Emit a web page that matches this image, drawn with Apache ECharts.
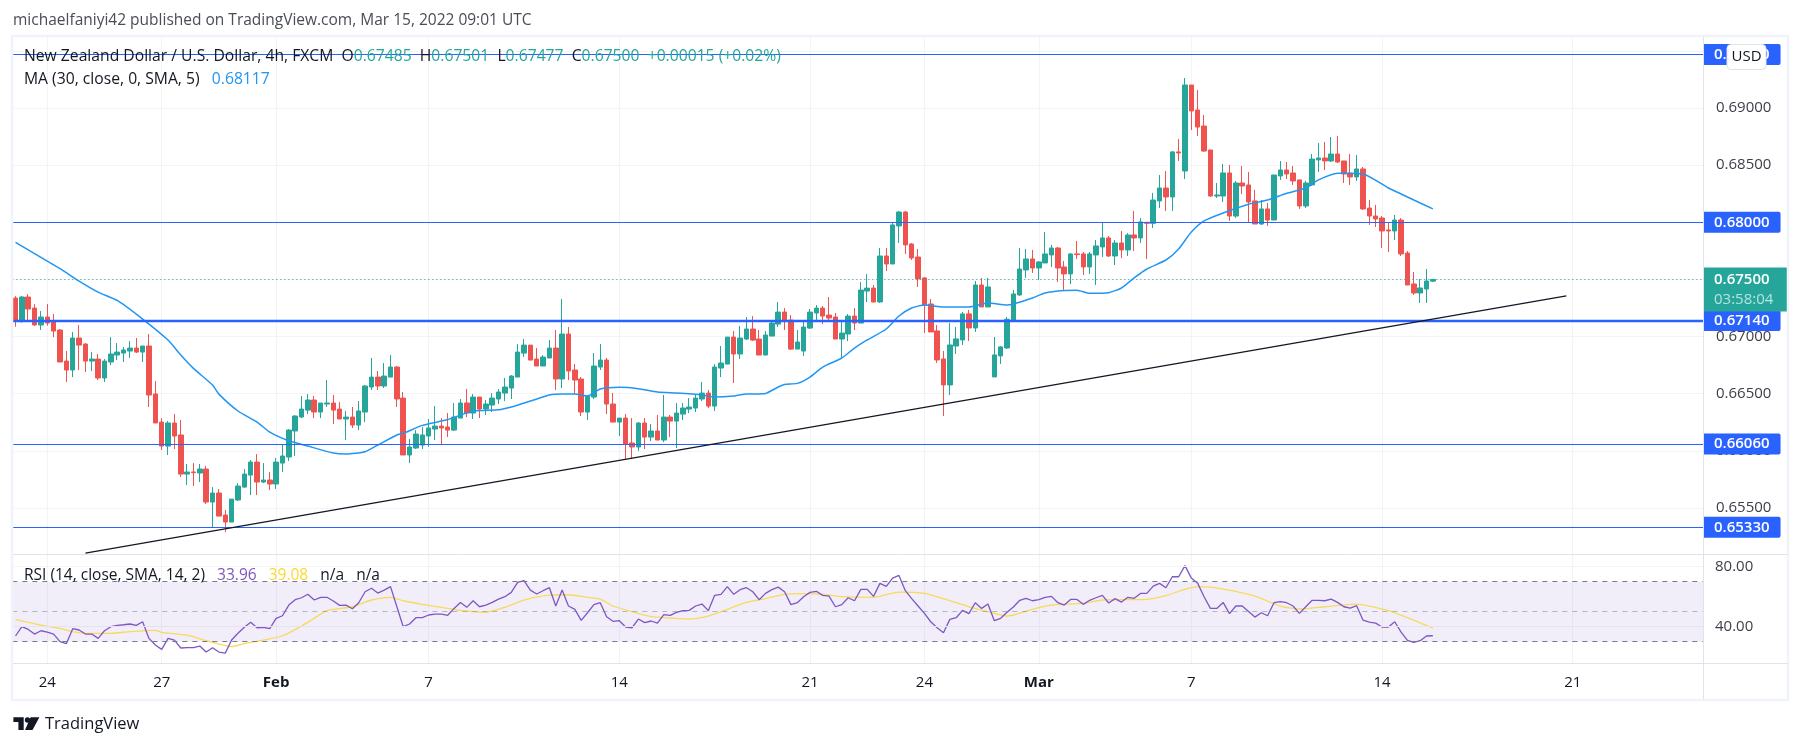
<!DOCTYPE html>
<html>
<head>
<meta charset="utf-8">
<title>NZD/USD 4h</title>
<script src="https://cdn.jsdelivr.net/npm/echarts@6/dist/echarts.min.js"></script>
<style>
  html, body { margin: 0; padding: 0; background: #fff; }
  #chart { width: 1802px; height: 747px; }
</style>
</head>
<body>
<div id="chart"></div>
<script>
// prices are in 1/100000 of a dollar, one entry per 4h candle
const opens = [
  67337,67144,67346,67249,67101,67171,67127,67057,66785,66707,
  66987,66934,66785,66803,66637,66777,66838,66855,66873,66899,
  66864,66917,66497,66251,66041,66243,66138,65796,65814,65805,
  65840,65551,65630,65437,65376,65569,65682,65787,65901,65726,
  65744,65709,65892,65945,66173,66295,66356,66444,66339,66409,
  66418,66365,66278,66295,66225,66339,66558,66645,66567,66645,
  66733,66461,65963,66024,66050,66129,66190,66216,66208,66181,
  66286,66418,66330,66470,66365,66400,66453,66505,66549,66645,
  66855,66925,66803,66742,66812,66899,66628,67022,66707,66628,
  66339,66470,66733,66794,66409,66251,66286,66068,66033,66243,
  66120,66173,66094,66295,66260,66321,66365,66374,66453,66505,
  66391,66724,66759,66995,66847,66978,67066,66978,66838,67004,
  67109,67214,67144,66890,66873,67074,67206,67249,67188,67171,
  66978,67022,67179,67118,67398,67424,67303,67705,67635,67968,
  68090,67810,67696,67513,67285,67049,66804,66576,66917,66970,
  67198,67075,67451,67259,66646,66830,66900,67145,67364,67583,
  67679,67600,67644,67714,67775,67609,67548,67723,67723,67609,
  67714,67784,67863,67705,67819,67758,67889,67863,68000,67991,
  68187,68300,68222,68616,68449,69202,68983,68843,68633,68230,
  68230,68432,68055,68344,68327,68187,67985,68117,68020,68406,
  68458,68432,68371,68143,68327,68546,68563,68537,68598,68537,
  68432,68397,68467,68125,68055,68038,67933,67924,68020,67731,
  67460,67381,67416,67485
];
const closes = [
  67144,67346,67241,67101,67171,67118,67048,66777,66707,66987,
  66925,66785,66803,66637,66785,66847,66864,66882,66899,66864,
  66917,66488,66243,66041,66243,66129,65796,65814,65808,65840,
  65551,65630,65428,65376,65577,65691,65796,65901,65726,65744,
  65709,65901,65954,66181,66304,66365,66444,66339,66418,66418,
  66356,66278,66295,66225,66348,66567,66645,66567,66654,66733,
  66453,65963,66033,66146,66138,66199,66216,66199,66181,66295,
  66418,66330,66470,66365,66409,66461,66514,66558,66654,66864,
  66925,66794,66742,66820,66899,66628,67022,66698,66619,66339,
  66479,66742,66794,66409,66251,66286,66059,66033,66243,66120,
  66173,66094,66295,66260,66330,66374,66383,66461,66505,66391,
  66733,66768,66995,66847,66987,67066,66969,66838,67013,67118,
  67214,67136,66890,66952,67083,67214,67249,67179,67162,66978,
  67030,67179,67118,67407,67424,67302,67705,67635,67977,68090,
  67802,67688,67504,67276,67040,66795,66576,66926,66979,67198,
  67075,67451,67259,67434,66839,66909,67151,67373,67591,67679,
  67600,67653,67723,67775,67600,67548,67723,67717,67609,67723,
  67793,67863,67705,67819,67758,67889,67863,68003,67991,68195,
  68300,68222,68616,68607,69202,68975,68834,68624,68230,68239,
  68432,68055,68344,68318,68178,67985,68117,68020,68414,68458,
  68423,68362,68143,68344,68554,68563,68537,68598,68528,68423,
  68397,68467,68117,68055,68029,67924,67924,68020,67723,67451,
  67381,67425,67486,67500
];
const lows = [
  67086,67121,67144,67095,67057,67095,66995,66777,66602,66645,
  66707,66689,66698,66619,66602,66750,66794,66777,66812,66855,
  66777,66383,66243,66006,65963,66015,65770,65700,65691,65726,
  65534,65329,65428,65288,65376,65560,65674,65612,65612,65717,
  65656,65665,65814,65910,65954,66286,66321,66286,66286,66383,
  66234,66278,66094,66199,66181,66251,66532,66532,66549,66645,
  66383,65963,65892,66015,66015,66033,66094,66059,66120,66173,
  66286,66295,66278,66286,66313,66339,66409,66435,66453,66645,
  66820,66794,66742,66742,66812,66532,66549,66619,66497,66304,
  66269,66453,66707,66321,66251,66129,65927,65927,65998,66015,
  66085,66094,66076,66120,66024,66269,66330,66339,66435,66374,
  66348,66645,66759,66593,66803,66969,66960,66838,66838,67004,
  67083,67057,66882,66890,66829,67066,67144,67109,67136,66978,
  66803,66960,67057,67118,67302,67302,67294,67574,67635,67819,
  67723,67670,67434,67031,67040,66769,66305,66488,66847,66926,
  66961,67040,67259,67259,66646,66760,66891,67145,67355,67513,
  67556,67495,67644,67609,67478,67408,67460,67679,67539,67548,
  67451,67696,67696,67626,67688,67705,67749,67819,67679,67950,
  68125,68099,68099,68537,68379,68808,68756,68616,68222,68213,
  68178,68012,68038,68248,68000,67985,67977,67968,68020,68371,
  68379,68327,68117,68125,68318,68441,68458,68528,68519,68344,
  68327,68362,68108,67977,67959,67775,67740,67845,67705,67451,
  67364,67294,67294,67477
];
const highs = [
  67354,67354,67372,67284,67223,67284,67197,67066,66873,67039,
  67101,66943,66864,66847,66803,66995,66943,66908,66960,66987,
  66917,67022,66610,66286,66260,66321,66269,65884,65892,65884,
  65866,65682,65665,65481,65577,65717,65840,65919,65971,65892,
  65814,65936,66059,66190,66313,66479,66497,66479,66418,66619,
  66488,66426,66348,66383,66435,66575,66812,66698,66768,66838,
  66742,66514,66103,66181,66208,66278,66391,66286,66330,66418,
  66453,66540,66497,66470,66444,66505,66540,66637,66663,66934,
  66978,66925,66899,66838,66969,67057,67328,67083,66759,66645,
  66488,66855,66934,66812,66505,66286,66321,66286,66251,66286,
  66234,66313,66488,66313,66418,66418,66461,66488,66602,66532,
  66759,66917,66995,67048,67092,67171,67179,67057,67048,67144,
  67302,67249,67188,67057,67136,67241,67276,67267,67346,67206,
  67127,67197,67249,67477,67547,67451,67775,67775,67994,68099,
  68099,67819,67767,67521,67329,67101,66874,67119,67084,67215,
  67233,67486,67513,67513,66996,66917,67171,67408,67775,67767,
  67758,67661,67915,67802,67784,67661,67731,67837,67740,67740,
  67845,68003,67880,67845,67924,67907,68099,68038,68003,68257,
  68414,68449,68624,68729,69263,69202,69158,68940,68633,68344,
  68511,68502,68362,68493,68441,68283,68195,68169,68414,68537,
  68528,68493,68371,68362,68598,68694,68703,68747,68756,68537,
  68598,68589,68484,68195,68152,68055,68003,68064,68038,67749,
  67565,67504,67591,67501
];

const maAt = [0,7,10,13,16,20,24,26,28,31,32,35,38,40,43,46,50,52,55,57,60,61,64,68,72,76,78,81,84,86,88,90,92,95,98,101,104,108,110,113,115,118,120,121,123,125,127,130,132,134,137,139,141,143,146,150,153,156,157,160,162,165,167,169,172,174,176,178,181,183,185,187,190,194,197,200,203,205,208,212,216,218,220,223];
const maValues = [67825,67594,67486,67389,67316,67153,66969,66838,66721,66575,66496,66348,66251,66164,66088,66041,65980,65971,65992,66050,66138,66152,66222,66273,66348,66359,66383,66435,66488,66496,66496,66479,66540,66555,66543,66514,66505,66488,66470,66479,66496,66502,66558,66581,66590,66645,66733,66812,66899,66970,67066,67180,67250,67276,67259,67259,67294,67276,67285,67338,67381,67402,67405,67378,67384,67425,67513,67591,67670,67767,67915,68012,68082,68158,68195,68254,68300,68371,68429,68423,68300,68248,68195,68117];

const rsiValues = [
  33.8,40,38.2,35.1,37.3,36.4,35.1,30,28.7,38.7,
  37.8,35.1,35.1,32.2,37.3,40,40.9,41.3,41.8,40.9,
  43.3,32.2,27.8,24.9,32.2,31.1,25.8,26,26,27.1,
  23.1,26,23.1,22.4,31.1,35.6,39.6,42.9,39.3,39.6,
  38.7,45.6,47.3,54.4,58,59.3,61.6,57.8,59.6,59.6,
  57.1,54.2,54.4,52,56,63.3,65.6,62.4,64.4,66.7,
  53.3,40,41.8,46,46,47.8,48.4,48.4,47.6,52.2,
  56.2,52.9,57.3,53.3,54.4,56.2,58.4,60,62.9,69.6,
  70.7,64.4,61.8,64,66,53.8,64.4,53.8,51.6,44.2,
  49.3,54.7,56,46.7,43.6,44,39.8,39.3,45.1,42.7,
  43.8,42.4,48,47.6,49.6,50.7,50.9,53.8,55.1,50.7,
  60.9,61.6,66.7,61.6,64.7,66,63.3,58,62.2,64.7,
  66.4,63.3,54.7,56,60,62.9,63.6,60.9,60.4,53.3,
  54.7,59.3,57.3,64.9,64.9,60.2,68.9,66.9,72.4,74.2,
  64,58.7,53.8,48.9,43.3,39.3,36,44.9,46,50.9,
  48.7,56,52.2,55.1,44,45.6,49.6,53.1,57.6,58.9,
  57.3,58,59.6,60.2,56,54.4,58.2,58.2,54.9,57.6,
  59.3,60.9,55.8,58.7,56.4,59.6,58.9,62.2,62.2,67.1,
  68.9,66,73.3,73.3,80.7,72.4,68.9,60,52.2,52.2,
  56.2,48.7,53.8,53.8,50.2,46.4,49.3,47.3,56,56.7,
  56,53.8,48.9,53.3,57.6,57.6,57.3,58.4,56.2,53.3,
  52.4,54,44.4,43.1,42.4,39.8,39.8,43.3,36.4,30.9,
  29.6,30.7,33.8,33.96
];
const rsiMaAt = [0,4,7,9,11,15,18,22,23,27,30,34,36,39,42,45,47,49,53,56,59,61,64,67,70,74,77,80,84,87,90,92,94,97,100,103,106,109,112,115,118,121,124,127,130,135,139,143,148,150,153,156,157,160,163,168,171,178,181,184,186,190,195,199,202,206,211,216,219,223];
const rsiMaValues = [44.7,41.1,38.9,36.7,35.6,35.6,36.7,37.6,36.2,34.4,30.7,26.7,28.7,31.1,33.8,40.4,45.6,50.7,53.3,57.8,59.6,57.3,54.9,52.9,50.9,49.6,52.9,57.8,61.1,61.3,59.6,58.4,53.8,50,46.7,45.8,45.1,47.1,51.6,56.2,58.7,61.6,62,61.6,60,59.6,63.1,62.2,56,53.3,50,47.1,47.8,51.6,54.4,55.6,57.8,58.2,60.7,64.9,66.7,65.1,60.4,53.8,51.8,53.3,55.1,50.7,46,39.08];

// support levels and the rising trend line
const levels = [0.6947, 0.68, 0.6714, 0.6606, 0.6533];
const thickLevel = 0.6714;
const lastPrice = 0.675;
const trendAt = [11, 244];
const trendValues = [65104, 67355];

const slotCount = 266;
const tickSlots = [5, 23, 41, 65, 95, 125, 143, 161, 185, 215, 245];
const tickLabels = ['24', '27', 'Feb', '7', '14', '21', '24', 'Mar', '7', '14', '21'];
const monthLabels = ['Feb', 'Mar'];

const uiFont = '"Open Sans", sans-serif';
const axisSize = 15;
const legendSize = 15.7;
const textColor = '#131722';
const gridColor = '#f3f4f6';
const lineColor = '#e0e3eb';
const frameColor = '#f0f3fa';
const levelColor = '#2962ff';
const upColor = '#26a69a';
const downColor = '#ef5350';

const categories = Array.from({ length: slotCount }, (_, i) => String(i));
const price = (p) => p / 100000;
const candles = opens.map((o, i) => [price(o), price(closes[i]), price(lows[i]), price(highs[i])]);
const pairs = (at, values, fn) => at.map((k, i) => [k, fn ? fn(values[i]) : values[i]]);
const isTick = (i) => tickSlots.includes(i);

const levelLines = levels.map((v) => ({
  yAxis: v,
  lineStyle: { color: levelColor, width: v === thickLevel ? 2.4 : 1.2, type: 'solid' },
  label: {
    show: true, position: 'end', distance: 0, formatter: v.toFixed(5),
    color: '#fff', fontFamily: uiFont, fontSize: axisSize, fontWeight: 600,
    backgroundColor: levelColor, padding: [3, 11, 3, 11], borderRadius: [0, 2, 2, 0]
  }
}));
levelLines.push({
  yAxis: lastPrice,
  lineStyle: { color: upColor, width: 1, type: [1, 3] },
  label: {
    show: true, position: 'end', distance: 0, offset: [0, 10],
    formatter: '{a|' + lastPrice.toFixed(5) + '}\n{b|03:58:04}',
    backgroundColor: upColor, padding: [2, 14, 2, 11],
    rich: {
      a: { color: '#fff', fontFamily: uiFont, fontSize: axisSize, fontWeight: 600, lineHeight: 20 },
      b: { color: '#b5e3dd', fontFamily: uiFont, fontSize: axisSize, lineHeight: 20 }
    }
  }
});

const hLine = (y) => ({ type: 'line', z: 90, shape: { x1: 13, y1: y, x2: 1788, y2: y }, style: { stroke: lineColor, lineWidth: 1 }, silent: true });
const txt = (x, y, text, extra, z) => ({
  type: 'text', z: z || 95, x, y, silent: true,
  style: Object.assign({ text, fontFamily: uiFont, fontSize: legendSize, fill: textColor, verticalAlign: 'middle' }, extra)
});

const chart = echarts.init(document.getElementById('chart'), null, { renderer: 'canvas' });
chart.setOption({
  animation: false,
  backgroundColor: '#fff',
  grid: [
    { left: 12.34, right: 99, top: 37, height: 517 },
    { left: 12.34, right: 99, top: 554, height: 109 }
  ],
  xAxis: [
    {
      type: 'category', gridIndex: 0, data: categories, boundaryGap: true,
      axisLine: { show: false }, axisTick: { show: false }, axisLabel: { show: false },
      splitLine: { show: true, interval: isTick, alignWithLabel: true, lineStyle: { color: gridColor, width: 1 } }
    },
    {
      type: 'category', gridIndex: 1, data: categories, boundaryGap: true,
      axisLine: { show: false }, axisTick: { show: false },
      axisLabel: {
        interval: isTick, margin: 12, fontFamily: uiFont, fontSize: axisSize, color: textColor,
        formatter: (v) => {
          const label = tickLabels[tickSlots.indexOf(+v)];
          return monthLabels.includes(label) ? '{m|' + label + '}' : label;
        },
        rich: { m: { fontFamily: uiFont, fontSize: axisSize, fontWeight: 700, color: textColor } }
      },
      splitLine: { show: true, interval: isTick, alignWithLabel: true, lineStyle: { color: gridColor, width: 1 } }
    }
  ],
  yAxis: [
    {
      type: 'value', gridIndex: 0, position: 'right', scale: true,
      min: 0.650962, max: 0.696222, splitNumber: 9,
      axisLine: { show: false }, axisTick: { show: false },
      axisLabel: {
        margin: 13, fontFamily: uiFont, fontSize: axisSize, color: '#3c3f48',
        showMinLabel: false, showMaxLabel: false, formatter: (v) => v.toFixed(5)
      },
      splitLine: { show: true, showMinLine: false, showMaxLine: false, lineStyle: { color: gridColor, width: 1 } }
    },
    {
      type: 'value', gridIndex: 1, position: 'right',
      min: 15.8, max: 88.47,
      axisLine: { show: false }, axisTick: { show: false },
      axisLabel: { show: false },
      splitLine: { show: false }
    }
  ],
  series: [
    {
      name: 'NZDUSD', type: 'candlestick', xAxisIndex: 0, yAxisIndex: 0, data: candles, z: 2,
      barWidth: 5,
      itemStyle: { color: upColor, color0: downColor, borderColor: upColor, borderColor0: downColor, borderWidth: 1 },
      markLine: { silent: true, symbol: 'none', animation: false, precision: 5, z: 5, data: levelLines }
    },
    {
      name: 'MA', type: 'line', xAxisIndex: 0, yAxisIndex: 0, z: 4, showSymbol: false, smooth: 0.2,
      data: pairs(maAt, maValues, price), lineStyle: { color: '#2196f3', width: 1.5 }
    },
    {
      name: 'Trend', type: 'line', xAxisIndex: 0, yAxisIndex: 0, z: 6, showSymbol: false,
      data: pairs(trendAt, trendValues, price), lineStyle: { color: '#131722', width: 1.3 }
    },
    {
      name: 'RSI', type: 'line', xAxisIndex: 1, yAxisIndex: 1, z: 4, showSymbol: false,
      data: rsiValues, lineStyle: { color: '#7e57c2', width: 1.3 },
      markArea: { silent: true, itemStyle: { color: 'rgba(126,87,194,0.1)' }, data: [[{ yAxis: 70 }, { yAxis: 30 }]] },
      markLine: {
        silent: true, symbol: 'none', animation: false,
        data: [
          { yAxis: 80, lineStyle: { color: gridColor, width: 1, type: 'solid' }, label: { show: true, position: 'end', distance: 12, formatter: '80.00', color: '#3c3f48', fontFamily: uiFont, fontSize: axisSize } },
          { yAxis: 40, lineStyle: { color: '#e6e3ef', width: 1, type: 'solid' }, label: { show: true, position: 'end', distance: 12, formatter: '40.00', color: '#3c3f48', fontFamily: uiFont, fontSize: axisSize } },
          { yAxis: 70, lineStyle: { color: '#787b86', width: 1, type: [5, 5] }, label: { show: false } },
          { yAxis: 50, lineStyle: { color: 'rgba(120,123,134,0.5)', width: 1, type: [5, 5] }, label: { show: false } },
          { yAxis: 30, lineStyle: { color: '#787b86', width: 1, type: [5, 5] }, label: { show: false } }
        ]
      }
    },
    {
      name: 'RSI MA', type: 'line', xAxisIndex: 1, yAxisIndex: 1, z: 3, showSymbol: false, smooth: 0.2,
      data: pairs(rsiMaAt, rsiMaValues), lineStyle: { color: '#f7da5b', width: 1.3 }
    }
  ],
  graphic: { elements: [
    // frame and pane separators
    { type: 'rect', z: 90, silent: true, shape: { x: 12, y: 36, width: 1776, height: 664 }, style: { fill: 'none', stroke: frameColor, lineWidth: 2.5 } },
    hLine(554.5), hLine(663.5),
    { type: 'line', z: 90, silent: true, shape: { x1: 1703.5, y1: 37, x2: 1703.5, y2: 699 }, style: { stroke: lineColor, lineWidth: 1 } },
    // header and legends
    txt(13, 20.5, 'michaelfaniyi42 published on TradingView.com, Mar 15, 2022 09:01 UTC', { fill: '#4a4d57', fontSize: 15.5 }),
    txt(24, 57, 'New Zealand Dollar / U.S. Dollar, 4h, FXCM  O{g|0.67485}  H{g|0.67501}  L{g|0.67477}  C{g|0.67500}  {g|+0.00015 (+0.02%)}', {
      rich: { g: { fill: upColor, fontFamily: uiFont, fontSize: legendSize } }
    }),
    txt(24, 80, 'MA (30, close, 0, SMA, 5)   {b|0.68117}', {
      rich: { b: { fill: '#2196f3', fontFamily: uiFont, fontSize: legendSize } }
    }),
    txt(24, 576, 'RSI (14, close, SMA, 14, 2)   {p|33.96}   {y|39.08}   n/a   n/a', {
      fontSize: 15.5,
      rich: {
        p: { fill: '#7e57c2', fontFamily: uiFont, fontSize: 15.5 },
        y: { fill: '#fdd835', fontFamily: uiFont, fontSize: 15.5 }
      }
    }),
    // USD currency pill
    {
      type: 'rect', z: 96, silent: true, shape: { x: 1727, y: 44.5, width: 39, height: 25, r: 4 },
      style: { fill: '#fff', stroke: lineColor, lineWidth: 1 }
    },
    txt(1746.5, 57, 'USD', { align: 'center', fontSize: axisSize }, 97),
    // TradingView mark
    { type: 'polygon', z: 95, silent: true, shape: { points: [[13.4, 717.3], [23.7, 717.3], [23.7, 730], [18.4, 730], [18.4, 722], [13.4, 722]] }, style: { fill: textColor } },
    { type: 'circle', z: 95, silent: true, shape: { cx: 27.5, cy: 720, r: 2.7 }, style: { fill: textColor } },
    { type: 'polygon', z: 95, silent: true, shape: { points: [[30.6, 717.3], [39.4, 717.3], [32.5, 730], [25, 730]] }, style: { fill: textColor } },
    txt(45, 724, 'TradingView', { fontSize: 16.5 })
  ] }
});
</script>
</body>
</html>
